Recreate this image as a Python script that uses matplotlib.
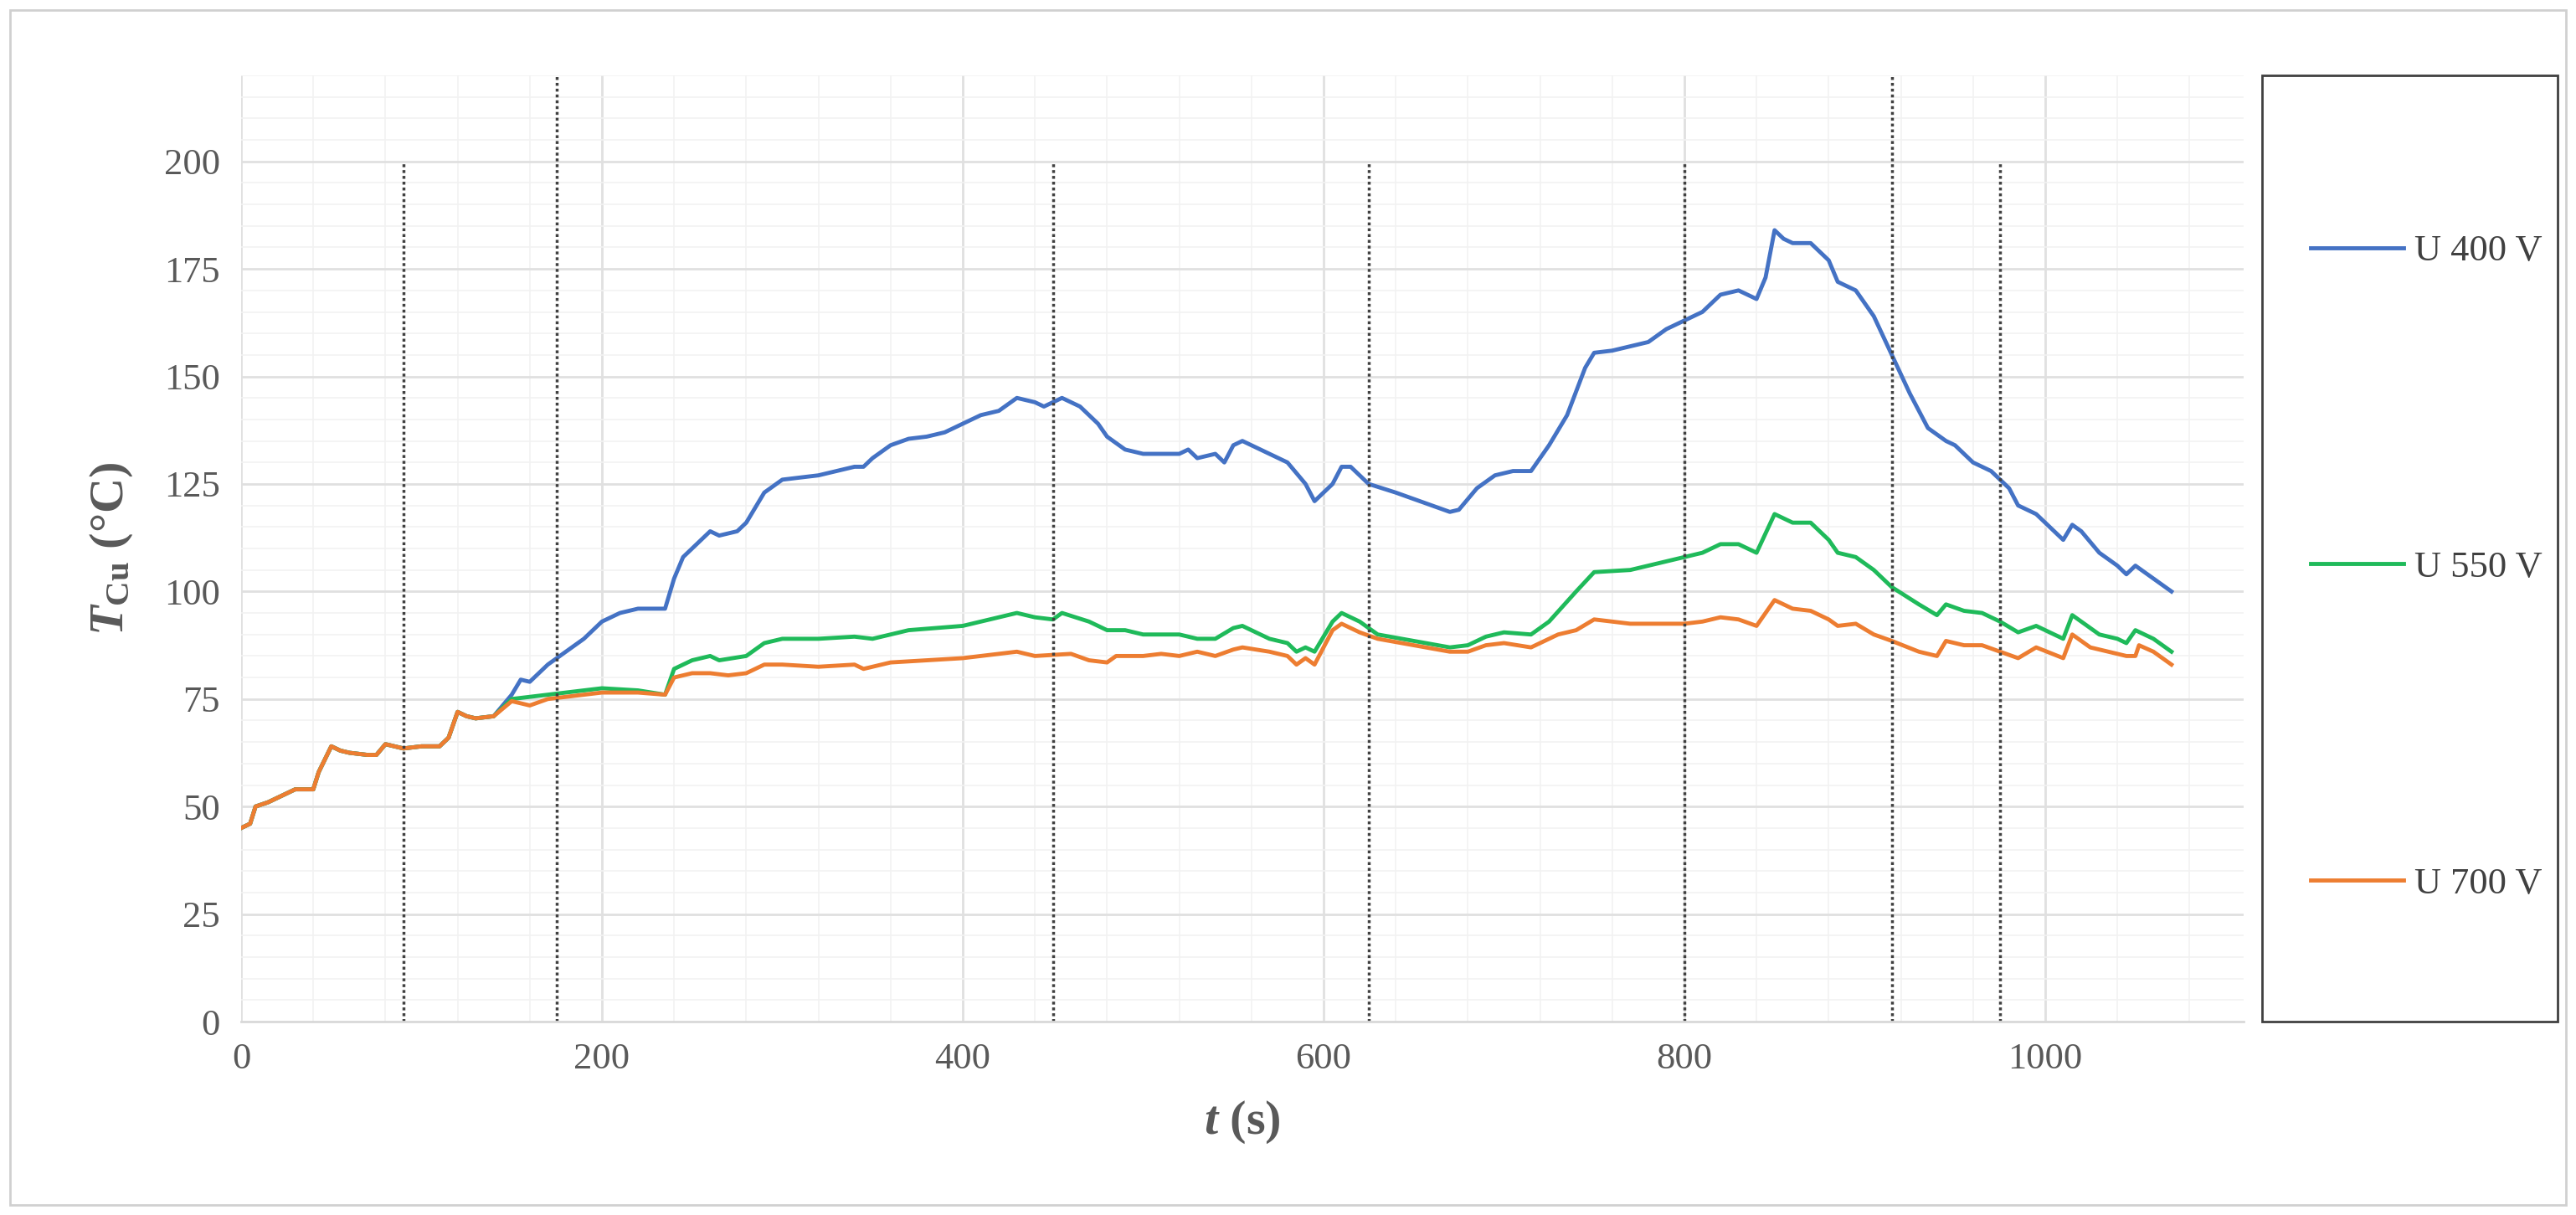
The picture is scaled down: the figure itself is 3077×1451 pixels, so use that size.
import numpy as np
import matplotlib.pyplot as plt
from matplotlib.ticker import MultipleLocator
from matplotlib.patches import Rectangle

# ---------- data ----------
t_common = [0, 5, 8, 15, 20, 25, 30, 40, 43, 50, 55, 60, 70, 75, 80, 90, 100, 110, 115, 120, 125, 130, 140]
T_common = [45, 46, 50, 51, 52, 53, 54, 54, 58, 64, 63, 62.5, 62, 62, 64.5, 63.5, 64, 64, 66, 72, 71, 70.5, 71]

t_400 = [150, 155, 160, 170, 180, 190, 200, 210, 220, 235, 240, 245, 255, 260, 265, 275, 280, 290, 300, 310,
         320, 330, 340, 345, 350, 360, 370, 380, 390, 400, 410, 420, 430, 440, 445, 455, 465, 475, 480, 490,
         500, 520, 525, 530, 540, 545, 550, 555, 565, 570, 580, 590, 595, 605, 610, 615, 625, 640, 660, 670,
         675, 685, 695, 705, 715, 725, 735, 745, 750, 760, 780, 790, 800, 810, 820, 830, 840, 845, 850, 855,
         860, 870, 880, 885, 895, 905, 915, 925, 935, 945, 950, 960, 970, 980, 985, 995, 1005, 1010, 1015, 1020,
         1030, 1040, 1045, 1050, 1060, 1070]
T_400 = [76, 79.5, 79, 83, 86, 89, 93, 95, 96, 96, 103, 108, 112, 114, 113, 114, 116, 123, 126, 126.5,
         127, 128, 129, 129, 131, 134, 135.5, 136, 137, 139, 141, 142, 145, 144, 143, 145, 143, 139, 136, 133,
         132, 132, 133, 131, 132, 130, 134, 135, 133, 132, 130, 125, 121, 125, 129, 129, 125, 123, 120, 118.5,
         119, 124, 127, 128, 128, 134, 141, 152, 155.5, 156, 158, 161, 163, 165, 169, 170, 168, 173, 184, 182,
         181, 181, 177, 172, 170, 164, 155, 146, 138, 135, 134, 130, 128, 124, 120, 118, 114, 112, 115.5, 114,
         109, 106, 104, 106, 103, 100]

t_550 = [150, 170, 200, 220, 235, 240, 250, 260, 265, 280, 290, 300, 320, 340, 350, 360, 370, 400, 420, 430,
         440, 450, 455, 470, 480, 490, 500, 520, 530, 540, 550, 555, 570, 580, 585, 590, 595, 605, 610, 620,
         630, 650, 670, 680, 690, 700, 715, 725, 740, 750, 770, 790, 800, 810, 820, 830, 840, 850, 860, 870,
         880, 885, 895, 905, 915, 930, 940, 945, 955, 965, 975, 985, 995, 1005, 1010, 1015, 1020, 1030, 1040,
         1045, 1050, 1060, 1070]
T_550 = [75, 76, 77.5, 77, 76, 82, 84, 85, 84, 85, 88, 89, 89, 89.5, 89, 90, 91, 92, 94, 95,
         94, 93.5, 95, 93, 91, 91, 90, 90, 89, 89, 91.5, 92, 89, 88, 86, 87, 86, 93, 95, 93,
         90, 88.5, 87, 87.5, 89.5, 90.5, 90, 93, 100, 104.5, 105, 107, 108, 109, 111, 111, 109, 118, 116, 116,
         112, 109, 108, 105, 101, 97, 94.5, 97, 95.5, 95, 93, 90.5, 92, 90, 89, 94.5, 93, 90, 89,
         88, 91, 89, 86]

t_700 = [150, 160, 170, 180, 200, 220, 235, 240, 250, 260, 270, 280, 290, 300, 320, 340, 345, 360, 380, 400,
         430, 440, 460, 470, 480, 485, 500, 510, 520, 530, 540, 550, 555, 570, 580, 585, 590, 595, 605, 610,
         620, 630, 650, 670, 680, 690, 700, 715, 730, 740, 750, 770, 800, 810, 820, 830, 840, 850, 860, 870,
         880, 885, 895, 905, 915, 930, 940, 945, 955, 965, 975, 985, 995, 1010, 1015, 1025, 1035, 1045, 1050,
         1052, 1060, 1070]
T_700 = [74.5, 73.5, 75, 75.5, 76.5, 76.5, 76, 80, 81, 81, 80.5, 81, 83, 83, 82.5, 83, 82, 83.5, 84, 84.5,
         86, 85, 85.5, 84, 83.5, 85, 85, 85.5, 85, 86, 85, 86.5, 87, 86, 85, 83, 84.5, 83, 91, 92.5,
         90.5, 89, 87.5, 86, 86, 87.5, 88, 87, 90, 91, 93.5, 92.5, 92.5, 93, 94, 93.5, 92, 98, 96, 95.5,
         93.5, 92, 92.5, 90, 88.5, 86, 85, 88.5, 87.5, 87.5, 86, 84.5, 87, 84.5, 90, 87, 86, 85, 85,
         87.5, 86, 83]

marker_t = [90, 175, 450, 625, 800, 915, 975]
marker_top = [200, 220, 200, 200, 200, 220, 200]

labels = ["U 400 V", "U 550 V", "U 700 V"]
colors = ["#4472c4", "#1fba5a", "#ed7d31"]

# ---------- figure ----------
plt.rcParams['font.family'] = ['Liberation Serif', 'DejaVu Serif']
plt.rcParams['mathtext.fontset'] = 'custom'
plt.rcParams['mathtext.it'] = 'Liberation Serif:italic:bold'
plt.rcParams['mathtext.rm'] = 'Liberation Serif:bold'
fig = plt.figure(figsize=(30.77, 14.51), dpi=100)
fig.patches.append(Rectangle((0.004, 0.008), 0.992, 0.984, transform=fig.transFigure,
                             fill=False, edgecolor="#d0d0d0", lw=2))
# legend frame
fig.patches.append(Rectangle((2702 / 3077, 1 - 1220 / 1451), (3055 - 2702) / 3077, 1130 / 1451,
                             transform=fig.transFigure, fill=False, edgecolor="#404040", lw=2))

ax = fig.add_axes([288 / 3077, 1 - 1220 / 1451, (2680 - 288) / 3077, (1220 - 90) / 1451])

ax.plot(t_common + t_400, T_common + T_400, color=colors[0], lw=3.5, label=labels[0])
ax.plot(t_common + t_550, T_common + T_550, color=colors[1], lw=3.5, label=labels[1])
ax.plot(t_common + t_700, T_common + T_700, color=colors[2], lw=3.5, label=labels[2])

ax.vlines(marker_t, 0, marker_top, colors="#404040", linestyles=(0, (1, 1)), lw=2.5)

ax.set_xlim(0, 1110)
ax.set_ylim(0, 220)
ax.xaxis.set_major_locator(MultipleLocator(200))
ax.xaxis.set_minor_locator(MultipleLocator(40))
ax.yaxis.set_major_locator(MultipleLocator(25))
ax.yaxis.set_minor_locator(MultipleLocator(5))
ax.set_yticks([0, 25, 50, 75, 100, 125, 150, 175, 200])
ax.grid(which="major", color="#e0e0e0", lw=2)
ax.grid(which="minor", color="#f2f2f2", lw=1.2)
ax.set_axisbelow(True)
for s in ax.spines.values():
    s.set_visible(False)
ax.spines["bottom"].set_visible(True)
ax.spines["bottom"].set_color("#d9d9d9")
ax.spines["bottom"].set_linewidth(2)
ax.tick_params(which="both", length=0, labelsize=32, colors="#595959", pad=18)

ax.set_xlabel(r"$t$ (s)", fontsize=42, color="#595959", fontweight="bold", labelpad=20)
ax.set_ylabel(r"$T_{\mathrm{Cu}}$ (°C)", fontsize=42, color="#595959", fontweight="bold", labelpad=25)

# legend entries inside the frame
leg = fig.legend(loc="upper left", bbox_to_anchor=(2760 / 3077, 1 - 280 / 1451),
                 bbox_transform=fig.transFigure, frameon=False, fontsize=32,
                 labelcolor="#404040", handlelength=2.5, handletextpad=0.3,
                 labelspacing=7.6, borderpad=0, borderaxespad=0)

fig.savefig("out.png", dpi=100)
